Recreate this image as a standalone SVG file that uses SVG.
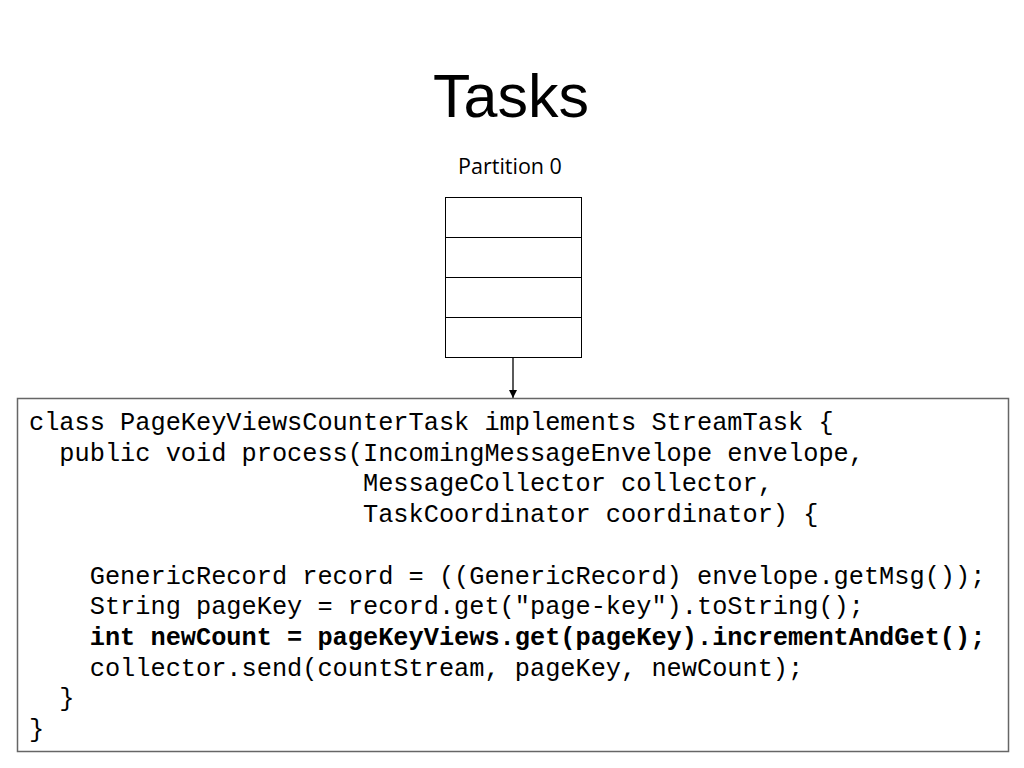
<svg xmlns="http://www.w3.org/2000/svg" width="1024" height="768" viewBox="0 0 1024 768">
<style>
.title{font-family:"Liberation Sans",Arial,sans-serif;font-size:61px;fill:#000}
.label{font-family:"Open Sans","Liberation Sans",sans-serif;font-size:21.5px;fill:#000}
.code{font-family:"Liberation Mono","Courier New",monospace;font-size:25.3px;fill:#000;white-space:pre}
.b{font-weight:bold}
.cell{fill:#fff;stroke:#000;stroke-width:1}
.conn{stroke:#000;stroke-width:1.3;fill:none}
</style>
<defs>
<marker id="arr" viewBox="0 0 10 10" refX="10" refY="5" markerWidth="8" markerHeight="8" markerUnits="userSpaceOnUse" orient="auto">
<path d="M0,0 L10,5 L0,10 z" fill="#000"/>
</marker>
</defs>
<rect width="1024" height="768" fill="#fff"/>
<text class="title" x="511" y="117" text-anchor="middle">Tasks</text>
<g id="partition0">
<text class="label" x="510" y="174" text-anchor="middle">Partition 0</text>
<rect class="cell" x="445.5" y="197.5" width="136" height="40"/>
<rect class="cell" x="445.5" y="237.5" width="136" height="40"/>
<rect class="cell" x="445.5" y="277.5" width="136" height="40"/>
<rect class="cell" x="445.5" y="317.5" width="136" height="40"/>
</g>
<g id="connectors">
<line class="conn" x1="513" y1="358" x2="513" y2="398" marker-end="url(#arr)"/>
</g>
<g id="task">
<rect x="17.5" y="398.5" width="991" height="353" fill="#fff" stroke="#666" stroke-width="1.5"/>
<text class="code" x="29" y="430">class PageKeyViewsCounterTask implements StreamTask {</text>
<text class="code" x="29" y="460.7">  public void process(IncomingMessageEnvelope envelope,</text>
<text class="code" x="29" y="491.4">                      MessageCollector collector,</text>
<text class="code" x="29" y="522.1">                      TaskCoordinator coordinator) {</text>
<text class="code" x="29" y="583.5">    GenericRecord record = ((GenericRecord) envelope.getMsg());</text>
<text class="code" x="29" y="614.2">    String pageKey = record.get("page-key").toString();</text>
<text class="code b" x="29" y="644.9">    int newCount = pageKeyViews.get(pageKey).incrementAndGet();</text>
<text class="code" x="29" y="675.6">    collector.send(countStream, pageKey, newCount);</text>
<text class="code" x="29" y="706.3">  }</text>
<text class="code" x="29" y="737">}</text>
</g>
</svg>
